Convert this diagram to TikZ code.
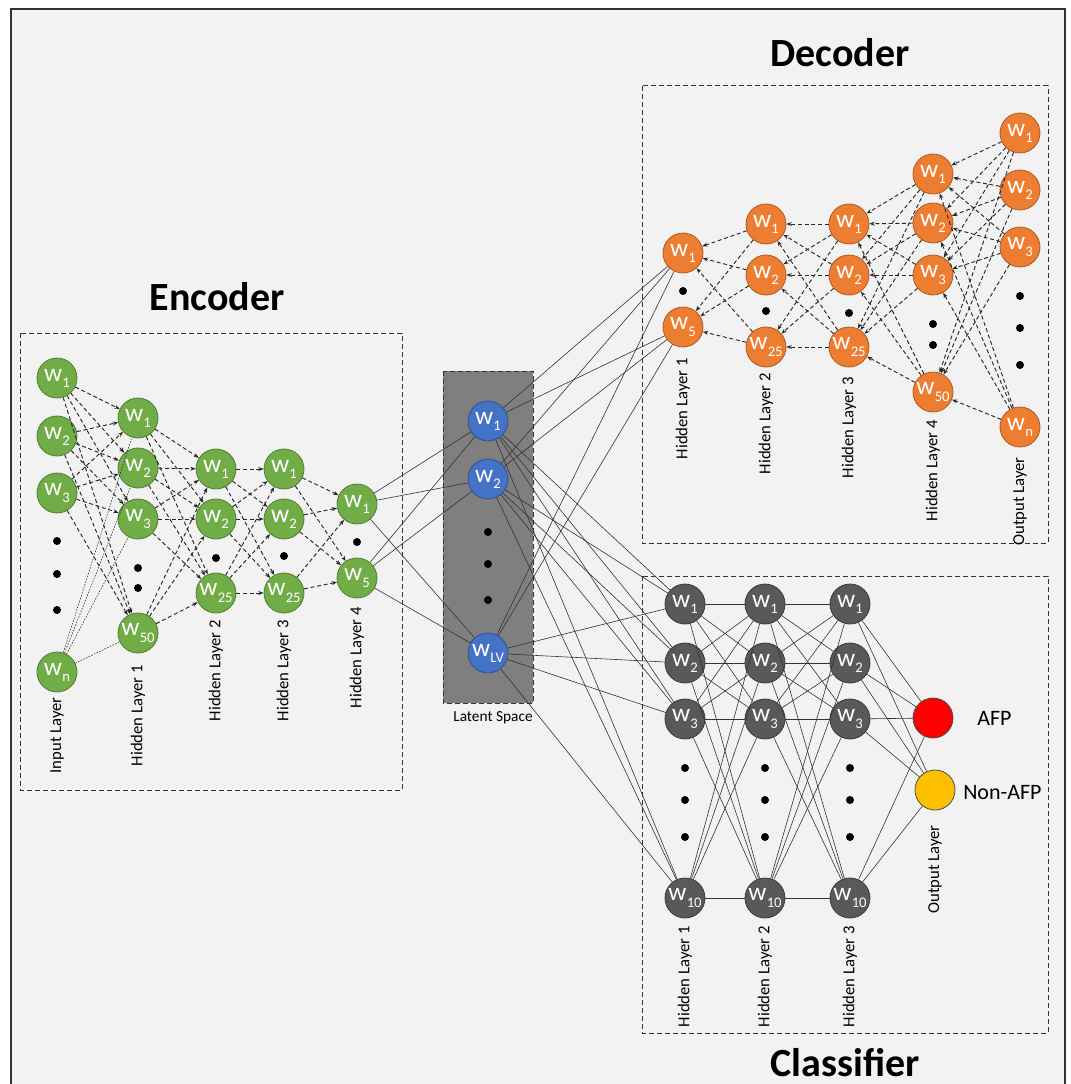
\documentclass[tikz,border=0pt]{standalone}
\usepackage{fontspec}
\setmainfont{Carlito}
\usetikzlibrary{arrows.meta}
\definecolor{bgc}{HTML}{F2F2F2}
\definecolor{encg}{HTML}{70AD47}
\definecolor{encgd}{HTML}{507E32}
\definecolor{deco}{HTML}{ED7D31}
\definecolor{decod}{HTML}{AE5A21}
\definecolor{latb}{HTML}{4472C4}
\definecolor{latbd}{HTML}{2F528F}
\definecolor{clsg}{HTML}{595959}
\definecolor{clsgd}{HTML}{3A3A3A}
\definecolor{latbox}{HTML}{7F7F7F}
\definecolor{afpr}{HTML}{FF0000}
\definecolor{nafpy}{HTML}{FFC000}
\newcommand\wsb[1]{w\kern0.2pt\raisebox{-0.5ex}{\fontsize{11}{11}\selectfont #1}}
\tikzset{
  neuron/.style={circle, minimum size=30pt, inner sep=0pt, line width=0.6pt, text=white, font=\fontsize{19}{19}\selectfont},
  enc/.style={neuron, fill=encg, draw=encgd},
  dec/.style={neuron, fill=deco, draw=decod},
  lat/.style={neuron, fill=latb, draw=latbd},
  cls/.style={neuron, fill=clsg, draw=clsgd},
  dotn/.style={circle, fill=black, minimum size=6pt, inner sep=0pt},
  lay/.style={rotate=90, anchor=east, font=\fontsize{12.5}{14}\selectfont, inner sep=0pt},
  ttl/.style={font=\fontsize{30}{34}\selectfont\bfseries, inner sep=0pt},
  dl/.style={dash pattern=on 3pt off 2pt, line width=0.7pt, black!85, -{Stealth[length=4pt,width=3pt]}},
  dtl/.style={dash pattern=on 1.2pt off 1pt, line width=0.4pt, black!85},
  sl/.style={line width=0.45pt, black!80},
  box/.style={dash pattern=on 3.5pt off 2.5pt, line width=0.75pt, black!80},
}
\begin{document}
\begin{tikzpicture}[x=0.75pt,y=-0.75pt]
\useasboundingbox (0,0) rectangle (1070,1084);
\clip (0,0) rectangle (1070,1084);
\fill[white] (0,0) rectangle (1070,1084);
\draw[fill=bgc, line width=1.5pt, draw=black!80] (11,9) rectangle (1065,1100);

% boxes
\draw[box] (20,333) rectangle (402,790);
\draw[box, fill=latbox] (443,371) rectangle (533,703);
\draw[box] (642,86) rectangle (1048,543);
\draw[box] (642,576) rectangle (1048,1033);

% titles
\node[ttl] (tenc) at (217,297) {Encoder};
\node[ttl] (tdec) at (840,53) {Decoder};
\node[ttl, anchor=base] (tcls) at (845,1076) {Classifier};

% ---------- Encoder ----------
\node[enc] (E0-1) at (57,378) {\wsb{1}};
\node[enc] (E0-2) at (57,436) {\wsb{2}};
\node[enc] (E0-3) at (57,493) {\wsb{3}};
\node[enc] (E0-4) at (57,672) {\wsb{n}};
\node[dotn] (E0d1) at (57,541) {};
\node[dotn] (E0d2) at (57,574) {};
\node[dotn] (E0d3) at (57,610) {};
\node[enc] (E1-1) at (138,418) {\wsb{1}};
\node[enc] (E1-2) at (138,468) {\wsb{2}};
\node[enc] (E1-3) at (138,519) {\wsb{3}};
\node[enc] (E1-4) at (138,633) {\wsb{50}};
\node[dotn] (E1d1) at (138,568) {};
\node[dotn] (E1d2) at (138,588) {};
\node[enc] (E2-1) at (216,469) {\wsb{1}};
\node[enc] (E2-2) at (216,519) {\wsb{2}};
\node[enc] (E2-3) at (216,593) {\wsb{25}};
\node[dotn] (E2d1) at (216,558) {};
\node[enc] (E3-1) at (284,469) {\wsb{1}};
\node[enc] (E3-2) at (284,519) {\wsb{2}};
\node[enc] (E3-3) at (284,593) {\wsb{25}};
\node[dotn] (E3d1) at (284,556) {};
\node[enc] (E4-1) at (357,504) {\wsb{1}};
\node[enc] (E4-2) at (357,578) {\wsb{5}};
\node[dotn] (E4d1) at (357,542) {};
\node[lay] (lE0) at (57,697) {Input Layer};
\node[lay] (lE1) at (138,665) {Hidden Layer 1};
\node[lay] (lE2) at (216,620) {Hidden Layer 2};
\node[lay] (lE3) at (284,620) {Hidden Layer 3};
\node[lay] (lE4) at (357,607) {Hidden Layer 4};

% ---------- Latent ----------
\node[lat] (L1) at (488,421) {\wsb{1}};
\node[lat] (L2) at (488,479) {\wsb{2}};
\node[lat] (L3) at (488,653) {\wsb{LV}};
\node[dotn] (Ld1) at (488,532) {};
\node[dotn] (Ld2) at (488,564) {};
\node[dotn] (Ld3) at (488,600) {};
\node[font=\fontsize{11.5}{13}\selectfont] (lL) at (493,718) {Latent Space};

% ---------- Decoder ----------
\node[dec] (D1-1) at (683,253) {\wsb{1}};
\node[dec] (D1-2) at (683,327) {\wsb{5}};
\node[dotn] (D1d1) at (683,291) {};
\node[dec] (D2-1) at (766,224) {\wsb{1}};
\node[dec] (D2-2) at (766,275) {\wsb{2}};
\node[dec] (D2-3) at (766,347) {\wsb{25}};
\node[dotn] (D2d1) at (766,311) {};
\node[dec] (D3-1) at (849,224) {\wsb{1}};
\node[dec] (D3-2) at (849,275) {\wsb{2}};
\node[dec] (D3-3) at (849,347) {\wsb{25}};
\node[dotn] (D3d1) at (849,313) {};
\node[dec] (D4-1) at (933,174) {\wsb{1}};
\node[dec] (D4-2) at (933,223) {\wsb{2}};
\node[dec] (D4-3) at (933,275) {\wsb{3}};
\node[dec] (D4-4) at (933,392) {\wsb{50}};
\node[dotn] (D4d1) at (933,324) {};
\node[dotn] (D4d2) at (933,345) {};
\node[dec] (D5-1) at (1020,133) {\wsb{1}};
\node[dec] (D5-2) at (1020,190) {\wsb{2}};
\node[dec] (D5-3) at (1020,247) {\wsb{3}};
\node[dec] (D5-4) at (1020,427) {\wsb{n}};
\node[dotn] (D5d1) at (1020,296) {};
\node[dotn] (D5d2) at (1020,328) {};
\node[dotn] (D5d3) at (1020,365) {};
\node[lay] (lD1) at (683,358) {Hidden Layer 1};
\node[lay] (lD2) at (766,373) {Hidden Layer 2};
\node[lay] (lD3) at (849,377) {Hidden Layer 3};
\node[lay] (lD4) at (933,420) {Hidden Layer 4};
\node[lay] (lD5) at (1020,457) {Output Layer};

% ---------- Classifier ----------
\foreach \k/\x in {1/685,2/765,3/850}{
  \node[cls] (C\k-1) at (\x,604) {\wsb{1}};
  \node[cls] (C\k-2) at (\x,663) {\wsb{2}};
  \node[cls] (C\k-3) at (\x,719) {\wsb{3}};
  \node[cls] (C\k-4) at (\x,898) {\wsb{10}};
  \node[dotn] (C\k d1) at (\x,768) {};
  \node[dotn] (C\k d2) at (\x,800) {};
  \node[dotn] (C\k d3) at (\x,837) {};
  \node[lay] (lC\k) at (\x,926) {Hidden Layer \k};
}
\node[neuron, fill=afpr, draw=black!70] (C4-1) at (933,718) {};
\node[neuron, fill=nafpy, draw=black!70] (C4-2) at (935,790) {};
\node[lay] (lC4) at (935,825) {Output Layer};
\node[anchor=west, font=\fontsize{16.5}{18}\selectfont, inner sep=0pt] (tafp) at (977,718) {AFP};
\node[anchor=west, font=\fontsize{16.5}{18}\selectfont, inner sep=0pt] (tnafp) at (963,793) {Non-AFP};

% ---------- Edges: encoder ----------
\foreach \i in {1,2,3}{\foreach \j in {1,...,4}{\draw[dl] (E0-\i) -- (E1-\j);}}
\foreach \j in {1,...,4}{\draw[dtl] (E0-4) -- (E1-\j);}
\foreach \i in {1,...,4}{\foreach \j in {1,2,3}{\draw[dl] (E1-\i) -- (E2-\j);}}
\foreach \i in {1,2,3}{\foreach \j in {1,2,3}{\draw[dl] (E2-\i) -- (E3-\j);}}
\foreach \i in {1,2,3}{\foreach \j in {1,2}{\draw[dl] (E3-\i) -- (E4-\j);}}
% encoder -> latent
\foreach \i in {1,2}{\foreach \j in {1,2,3}{\draw[sl] (E4-\i) -- (L\j);}}
% latent -> decoder
\foreach \i in {1,2,3}{\foreach \j in {1,2}{\draw[sl] (L\i) -- (D1-\j);}}
% latent -> classifier
\foreach \i in {1,2,3}{\foreach \j in {1,...,4}{\draw[sl] (L\i) -- (C1-\j);}}
% ---------- Edges: decoder (tips point left) ----------
\foreach \i in {1,2,3}{\foreach \j in {1,2}{\draw[dl] (D2-\i) -- (D1-\j);}}
\foreach \i in {1,2,3}{\foreach \j in {1,2,3}{\draw[dl] (D3-\i) -- (D2-\j);}}
\foreach \i in {1,...,4}{\foreach \j in {1,2,3}{\draw[dl] (D4-\i) -- (D3-\j);}}
\foreach \i in {1,...,4}{\foreach \j in {1,...,4}{\draw[dl] (D5-\i) -- (D4-\j);}}
% ---------- Edges: classifier ----------
\foreach \i in {1,...,4}{\foreach \j in {1,...,4}{\draw[sl] (C1-\i) -- (C2-\j);}}
\foreach \i in {1,...,4}{\foreach \j in {1,...,4}{\draw[sl] (C2-\i) -- (C3-\j);}}
\foreach \i in {1,...,4}{\foreach \j in {1,2}{\draw[sl] (C3-\i) -- (C4-\j);}}
\end{tikzpicture}
\end{document}
